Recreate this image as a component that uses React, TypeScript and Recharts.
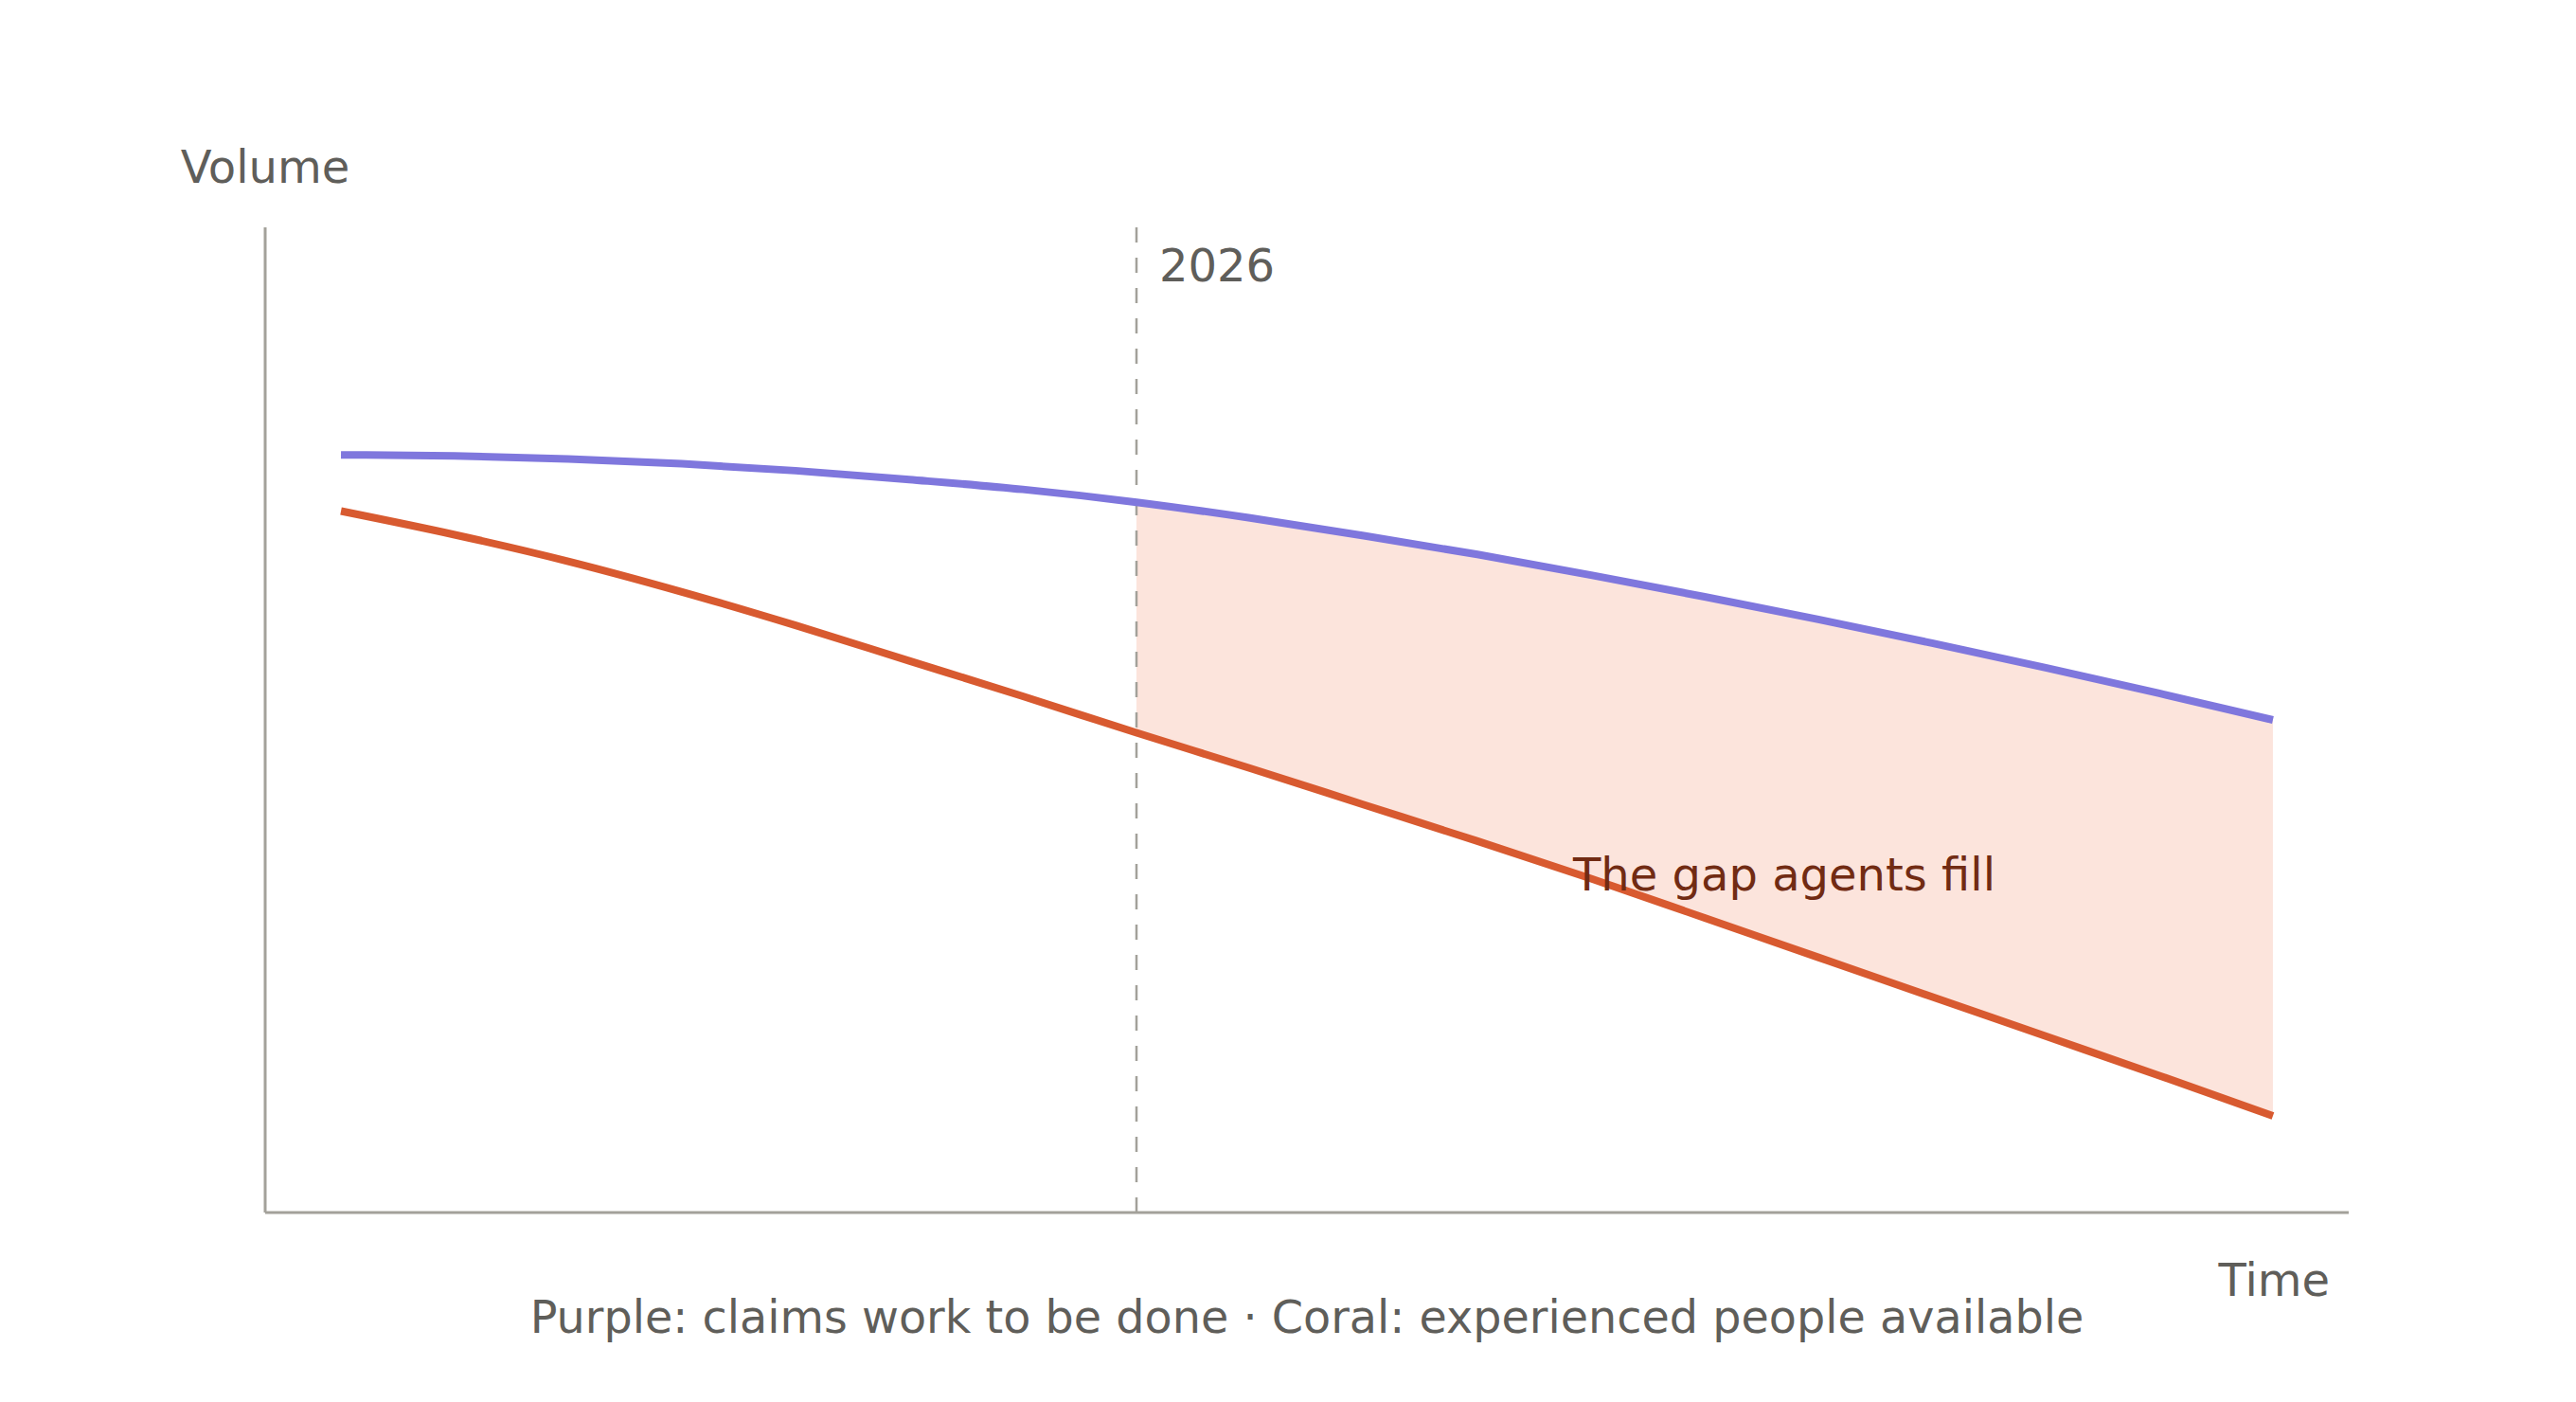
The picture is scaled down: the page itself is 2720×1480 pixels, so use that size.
import { ComposedChart, Line, Area, XAxis, YAxis, ReferenceLine } from "recharts"

const YEARS = [
  2019, 2020, 2021, 2022, 2023, 2024, 2025, 2026, 2027,
  2028, 2029, 2030, 2031, 2032, 2033, 2034, 2035, 2036,
]

// claims work to be done
const WORK = [
  76.9, 76.8, 76.5, 76.0, 75.3, 74.4, 73.4, 72.1, 70.5,
  68.7, 66.8, 64.7, 62.5, 60.2, 57.8, 55.3, 52.7, 50.0,
]

// experienced people available
const PEOPLE = [
  71.2, 68.8, 66.1, 63.0, 59.6, 56.0, 52.4, 48.7, 45.1,
  41.4, 37.7, 33.9, 29.9, 25.9, 21.9, 17.9, 13.9, 9.8,
]

const X_DOMAIN = [2018.333, 2036.667]
const Y_DOMAIN = [0, 100]

const MARKER_YEAR = 2026
const MARKER_LABEL = "2026"
const Y_LABEL = "Volume"
const X_LABEL = "Time"
const GAP_LABEL = "The gap agents fill"
const FOOTNOTE = "Purple: claims work to be done · Coral: experienced people available"

const COLORS = {
  work: "#7F77DD",
  people: "#D85A30",
  gap: "#FCE4DC",
  gapText: "#712B13",
  text: "#5F5E5A",
  axis: "#A3A19A",
}

const FONT = "'DejaVu Sans', sans-serif"
const W = 2720
const H = 1480

const data = YEARS.map((year, i) => ({
  year,
  work: WORK[i],
  people: PEOPLE[i],
  gap: year >= MARKER_YEAR ? [PEOPLE[i], WORK[i]] : null,
}))

// text layer sits above the series
function Texts() {
  const common = { fontFamily: FONT, fontSize: 48 }
  return (
    <svg
      width={W}
      height={H}
      style={{ position: "absolute", left: 0, top: 0, pointerEvents: "none" }}
    >
      <text x={280} y={193} textAnchor="middle" fill={COLORS.text} {...common}>
        {Y_LABEL}
      </text>
      <text x={1224} y={297} textAnchor="start" fill={COLORS.text} {...common}>
        {MARKER_LABEL}
      </text>
      <text x={2460} y={1368} textAnchor="end" fill={COLORS.text} {...common}>
        {X_LABEL}
      </text>
      <text x={1884} y={940} textAnchor="middle" fill={COLORS.gapText} {...common}>
        {GAP_LABEL}
      </text>
      <text x={1380} y={1407} textAnchor="middle" fill={COLORS.text} fontFamily={FONT} fontSize={47.7}>
        {FOOTNOTE}
      </text>
    </svg>
  )
}

export default function App() {
  return (
    <div style={{ position: "absolute", left: 0, top: 0, width: W, height: H, background: "#fff" }}>
      <ComposedChart
        width={W}
        height={H}
        data={data}
        margin={{ top: 240, right: 240, bottom: 170, left: 220 }}
      >
        <XAxis
          dataKey="year"
          type="number"
          domain={X_DOMAIN}
          allowDataOverflow
          tick={false}
          tickLine={false}
          height={30}
          axisLine={{ stroke: COLORS.axis, strokeWidth: 3 }}
        />
        <YAxis
          type="number"
          domain={Y_DOMAIN}
          allowDataOverflow
          tick={false}
          tickLine={false}
          width={60}
          axisLine={{ stroke: COLORS.axis, strokeWidth: 3 }}
        />
        <Area
          dataKey="gap"
          type="monotone"
          fill={COLORS.gap}
          fillOpacity={1}
          stroke="none"
          isAnimationActive={false}
          activeDot={false}
        />
        <ReferenceLine
          x={MARKER_YEAR}
          stroke={COLORS.axis}
          strokeWidth={2.5}
          strokeDasharray="16 16"
        />
        <Line
          dataKey="work"
          type="monotone"
          stroke={COLORS.work}
          strokeWidth={8}
          dot={false}
          activeDot={false}
          isAnimationActive={false}
        />
        <Line
          dataKey="people"
          type="monotone"
          stroke={COLORS.people}
          strokeWidth={8}
          dot={false}
          activeDot={false}
          isAnimationActive={false}
        />
      </ComposedChart>
      <Texts />
    </div>
  )
}
